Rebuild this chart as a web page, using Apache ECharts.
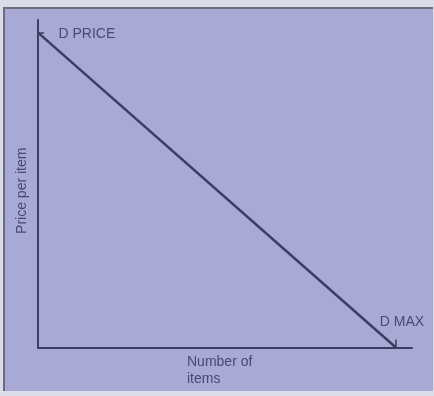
<!DOCTYPE html>
<html>
<head>
<meta charset="utf-8">
<script src="https://cdn.jsdelivr.net/npm/echarts@6/dist/echarts.min.js"></script>
<style>
  html, body { margin: 0; padding: 0; background: #dcdce6; }
  #frame {
    position: absolute; left: 3px; top: 7px;
    width: 428px; height: 382px;
    border-top: 2px solid #6c6c7c; border-left: 2px solid #6c6c7c;
    background: #a9a9d6;
  }
  #chart { width: 428px; height: 382px; }
</style>
</head>
<body>
<div id="frame"><div id="chart"></div></div>
<script>
// Demand line: price falls linearly from D PRICE (no items sold) to zero at D MAX items
const quantity = [0, 100];
const price = [100, 0];
const pointLabels = ['D PRICE', 'D MAX'];
const xAxisTitle = 'Number of\nitems';
const yAxisTitle = 'Price per item';

const ink = '#3e3c60';
const textInk = '#4a4970';
const font = '"Liberation Sans", Arial, sans-serif';

const chart = echarts.init(document.getElementById('chart'), null, { renderer: 'canvas' });

const points = quantity.map((q, i) => ({
  value: [q, price[i]],
  name: pointLabels[i],
  label: i === 0
    ? { position: 'right', distance: 20, offset: [0, 2] }
    : { position: 'top', distance: 18, offset: [6, 0] }
}));

chart.setOption({
  animation: false,
  backgroundColor: 'transparent',
  textStyle: { fontFamily: font },
  grid: { left: 33, top: 11, width: 374, height: 330, containLabel: false },
  xAxis: {
    type: 'value',
    min: 0, max: 104.5,
    name: xAxisTitle.split('\n').map(s => '{a|' + s + '}').join('\n'),
    nameLocation: 'middle',
    nameGap: 6,
    nameTextStyle: {
      color: textInk, fontSize: 14, fontFamily: font, verticalAlign: 'top',
      rich: { a: { width: 76, align: 'left', fontSize: 14, lineHeight: 17, color: textInk, fontFamily: font } }
    },
    axisLine: { show: true, lineStyle: { color: ink, width: 2 } },
    axisTick: { show: true, inside: true, length: 8, customValues: [quantity[1]], lineStyle: { color: ink, width: 1.5 } },
    axisLabel: { show: false },
    splitLine: { show: false }
  },
  yAxis: {
    type: 'value',
    min: 0, max: 104,
    name: yAxisTitle,
    nameLocation: 'middle',
    nameRotate: 90,
    nameGap: 9,
    nameTextStyle: { color: textInk, fontSize: 14, fontFamily: font, padding: [0, 14, 0, 0] },
    axisLine: { show: true, lineStyle: { color: ink, width: 2 } },
    axisTick: { show: true, inside: true, length: 6, customValues: [price[0]], lineStyle: { color: ink, width: 1.5 } },
    axisLabel: { show: false },
    splitLine: { show: false }
  },
  series: [{
    type: 'line',
    data: points,
    symbol: 'circle',
    symbolSize: 1,
    showSymbol: true,
    itemStyle: { color: 'rgba(0,0,0,0)' },
    lineStyle: { color: ink, width: 2.5 },
    label: {
      show: true,
      formatter: p => p.name,
      color: textInk,
      fontSize: 14,
      fontFamily: font
    }
  }]
});
</script>
</body>
</html>
